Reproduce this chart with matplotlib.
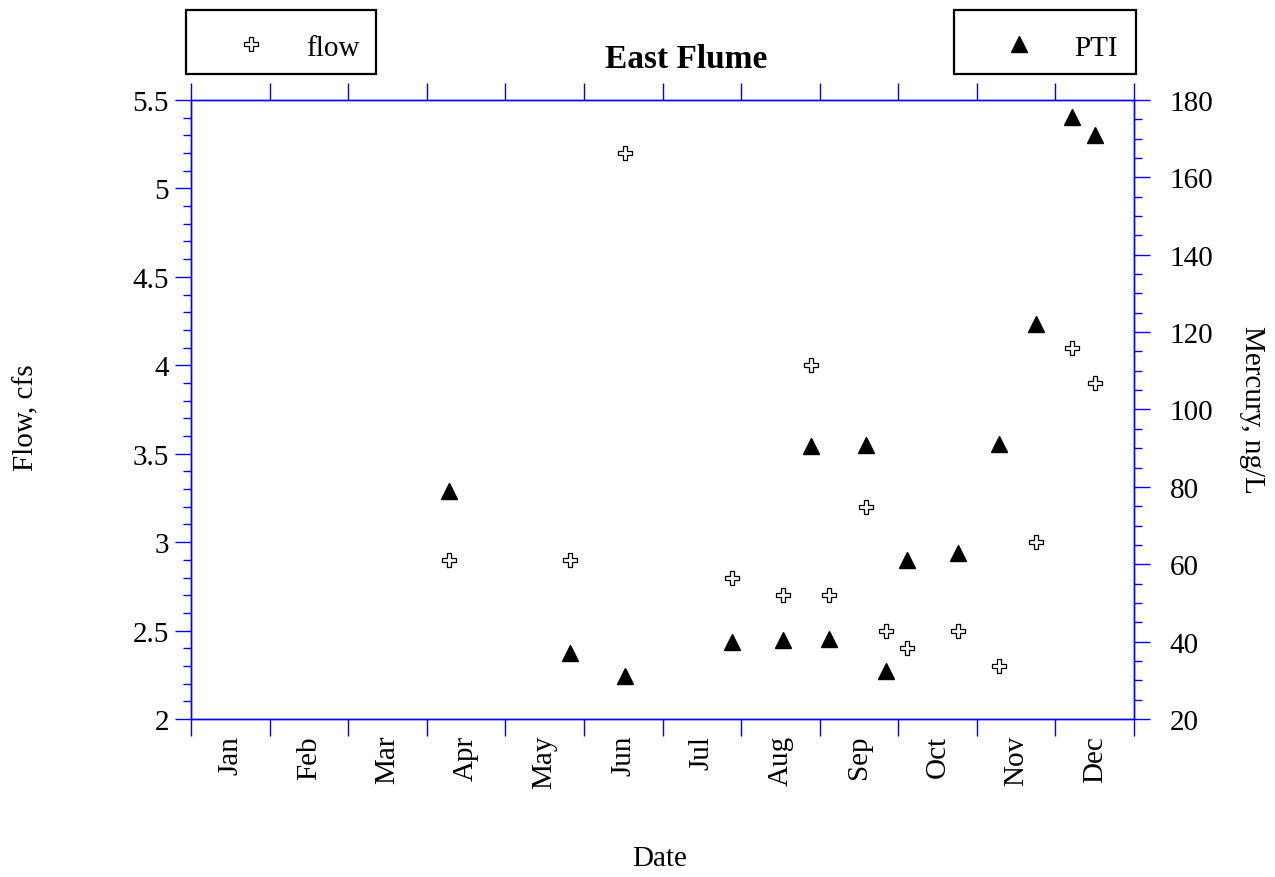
import calendar
import matplotlib
matplotlib.use("Agg")
import matplotlib.pyplot as plt
from matplotlib.lines import Line2D
from matplotlib.patches import Rectangle
from matplotlib.ticker import FixedLocator, MultipleLocator

# ---- data ----
months = ["Jan", "Feb", "Mar", "Apr", "May", "Jun", "Jul", "Aug", "Sep", "Oct", "Nov", "Dec"]
sample_dates = ["2000-04-09", "2000-05-26", "2000-06-16", "2000-07-28", "2000-08-17",
                "2000-08-28", "2000-09-04", "2000-09-18", "2000-09-26", "2000-10-04",
                "2000-10-24", "2000-11-09", "2000-11-23", "2000-12-07", "2000-12-16"]
flow = [2.9, 2.9, 5.2, 2.8, 2.7, 4.0, 2.7, 3.2, 2.5, 2.4, 2.5, 2.3, 3.0, 4.1, 3.9]
pti = [79, 37, 31, 40, 40.5, 90.5, 40.7, 90.7, 32.5, 61, 63, 91, 122, 175.5, 171]
flow_ticks = [2, 2.5, 3, 3.5, 4, 4.5, 5, 5.5]
flow_tick_labels = ["2", "2.5", "3", "3.5", "4", "4.5", "5", "5.5"]
hg_ticks = [20, 40, 60, 80, 100, 120, 140, 160, 180]


def month_pos(s):
    y, m, d = (int(v) for v in s.split("-"))
    nd = calendar.monthrange(y, m)[1]
    return (m - 1) + (d - 0.5) / nd


xpos = [month_pos(s) for s in sample_dates]

plt.rcParams["font.family"] = ["Liberation Serif", "DejaVu Serif"]
BLUE = "#0000ff"
FS = 21
W, H = 1275, 878

fig = plt.figure(figsize=(W / 100, H / 100), dpi=100)
ax = fig.add_axes([191 / W, 1 - 720 / H, (1134 - 191) / W, (720 - 101) / H])
ax2 = ax.twinx()

ax.plot(xpos, flow, linestyle="none", marker="P", markersize=10,
        markerfacecolor="white", markeredgecolor="black", markeredgewidth=0.9, zorder=3)
ax2.plot(xpos, pti, linestyle="none", marker="^", markersize=11,
         markerfacecolor="black", markeredgecolor="black", zorder=3)

ax.set_xlim(0, 12)
ax.set_ylim(2, 5.5)
ax2.set_ylim(20, 180)

# x ticks: boundaries (major, no label), month names at midpoints (minor, no tick)
ax.xaxis.set_major_locator(FixedLocator(list(range(13))))
ax.xaxis.set_major_formatter(plt.NullFormatter())
ax.set_xticks([i + 0.5 for i in range(12)], months, minor=True, rotation=90, fontsize=FS)
ax.tick_params(axis="x", which="major", direction="out", length=12, width=1,
               color=BLUE, top=True, bottom=True)
ax.tick_params(axis="x", which="minor", length=0, pad=11.5)

ax.set_yticks(flow_ticks, flow_tick_labels, fontsize=FS)
ax.yaxis.set_minor_locator(MultipleLocator(0.1))
ax.tick_params(axis="y", which="major", direction="out", length=11.5, width=1,
               color=BLUE, pad=4.5, labelsize=FS)
ax.tick_params(axis="y", which="minor", direction="out", length=5.8, width=1, color=BLUE)

ax2.set_yticks(hg_ticks, [str(v) for v in hg_ticks], fontsize=FS)
ax2.yaxis.set_minor_locator(MultipleLocator(5))
ax2.tick_params(axis="y", which="major", direction="out", length=11.5, width=1,
                color=BLUE, pad=14, labelsize=FS)
ax2.tick_params(axis="y", which="minor", direction="out", length=5.8, width=1, color=BLUE)

for a in (ax, ax2):
    for sp in a.spines.values():
        sp.set_color(BLUE)
        sp.set_linewidth(1)

fig.text(26 / W, 1 - 418 / H, "Flow, cfs", rotation=90, ha="center", va="center", fontsize=FS)
fig.text(1252 / W, 1 - 410 / H, "Mercury, ng/L", rotation=270, ha="center", va="center", fontsize=FS)
fig.text(660 / W, 1 - 859 / H, "Date", ha="center", va="center", fontsize=FS)
fig.text(686 / W, 1 - 59 / H, "East Flume", ha="center", va="center",
         fontsize=24, fontweight="bold")

flow_handle = Line2D([], [], linestyle="none", marker="P", markersize=10,
                     markerfacecolor="white", markeredgecolor="black", markeredgewidth=0.9)
pti_handle = Line2D([], [], linestyle="none", marker="^", markersize=11,
                    markerfacecolor="black", markeredgecolor="black")

# legend boxes (frames drawn separately so the content sits like the original)
fig.add_artist(Rectangle((186 / W, 1 - 75 / H), 190 / W, 64 / H, transform=fig.transFigure,
                         fill=False, edgecolor="black", linewidth=1.6))
fig.add_artist(Rectangle((954 / W, 1 - 75 / H), 182 / W, 64 / H, transform=fig.transFigure,
                         fill=False, edgecolor="black", linewidth=1.6))

leg_kw = dict(fontsize=FS, frameon=False, borderaxespad=0, numpoints=1, handlelength=3.2,
              handletextpad=0.3, borderpad=0.62)
fig.legend([flow_handle], ["flow"], loc="upper left",
           bbox_to_anchor=(186 / W, 1 - 17 / H), **leg_kw)
fig.legend([pti_handle], ["PTI"], loc="upper right",
           bbox_to_anchor=(1136 / W, 1 - 17 / H), **leg_kw)

fig.savefig("out.png", dpi=100, facecolor="white")
